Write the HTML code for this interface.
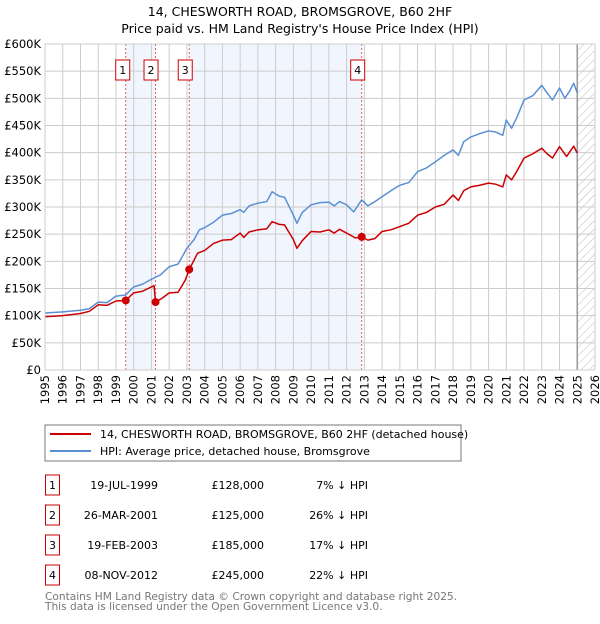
<!DOCTYPE html>
<html><head><meta charset="utf-8"><style>
body{margin:0;background:#fff;font-family:"DejaVu Sans","Liberation Sans",sans-serif;}
svg text{font-family:"DejaVu Sans","Liberation Sans",sans-serif;}
</style></head><body>
<svg width="600" height="620" viewBox="0 0 600 620" id="c">
<defs><pattern id="hatch" width="6" height="6" patternUnits="userSpaceOnUse" patternTransform="rotate(45)"><line x1="0" y1="0" x2="0" y2="6" stroke="#bbb" stroke-width="1"/></pattern></defs>
<text x="300" y="16" text-anchor="middle" font-size="12.5">14, CHESWORTH ROAD, BROMSGROVE, B60 2HF</text>
<text x="300" y="33" text-anchor="middle" font-size="12.5">Price paid vs. HM Land Registry's House Price Index (HPI)</text>
<g id="plot"></g>
<rect x="45" y="425" width="416" height="36" fill="#fff" stroke="#777"/>
<line x1="50" y1="434" x2="91" y2="434" stroke="#cc0000" stroke-width="2"/>
<text x="100" y="438" font-size="11">14, CHESWORTH ROAD, BROMSGROVE, B60 2HF (detached house)</text>
<line x1="50" y1="451" x2="91" y2="451" stroke="#5b8fd4" stroke-width="2"/>
<text x="100" y="455" font-size="11">HPI: Average price, detached house, Bromsgrove</text>
<g id="table" font-size="11"></g>
<text x="45" y="600" font-size="10.6" fill="#777">Contains HM Land Registry data © Crown copyright and database right 2025.</text>
<text x="45" y="610" font-size="10.6" fill="#777">This data is licensed under the Open Government Licence v3.0.</text>
</svg>
<script>
const yTicks=[0,50,100,150,200,250,300,350,400,450,500,550,600];
const yTickLabels=["£0","£50K","£100K","£150K","£200K","£250K","£300K","£350K","£400K","£450K","£500K","£550K","£600K"];
const xYears=[1995,1996,1997,1998,1999,2000,2001,2002,2003,2004,2005,2006,2007,2008,2009,2010,2011,2012,2013,2014,2015,2016,2017,2018,2019,2020,2021,2022,2023,2024,2025,2026];
const hpiT=[1995,1996,1997,1997.5,1998,1998.5,1999,1999.55,2000,2000.5,2001,2001.5,2002,2002.5,2003,2003.4,2003.7,2004,2004.5,2005,2005.5,2006,2006.2,2006.5,2007,2007.5,2007.8,2008.2,2008.5,2009,2009.2,2009.5,2010,2010.5,2011,2011.3,2011.6,2012,2012.4,2012.85,2013.2,2013.6,2014,2014.5,2015,2015.5,2016,2016.5,2017,2017.5,2018,2018.3,2018.6,2019,2019.5,2020,2020.4,2020.8,2021,2021.3,2021.6,2022,2022.5,2023,2023.3,2023.6,2024,2024.3,2024.6,2024.8,2025];
const hpiV=[105,107,110,113,125,124,136,138,153,158,167,175,190,195,224,240,258,262,272,285,288,295,290,302,307,310,328,320,318,285,270,290,304,308,309,302,310,304,291,313,302,310,319,330,340,345,365,372,383,395,405,395,420,429,435,440,438,432,460,445,465,497,505,524,510,497,519,500,515,528,510];
const priceT=[1995,1996,1997,1997.5,1998,1998.5,1999,1999.55,2000,2000.5,2001,2001.15,2001.23,2001.6,2002,2002.5,2002.9,2003.13,2003.6,2004,2004.5,2005,2005.5,2006,2006.2,2006.5,2007,2007.5,2007.8,2008.2,2008.5,2009,2009.2,2009.5,2010,2010.5,2011,2011.3,2011.6,2012,2012.5,2012.85,2013.2,2013.6,2014,2014.5,2015,2015.5,2016,2016.5,2017,2017.5,2018,2018.3,2018.6,2019,2019.5,2020,2020.4,2020.8,2021,2021.3,2021.6,2022,2022.5,2023,2023.3,2023.6,2024,2024.4,2024.8,2025];
const priceV=[98,100,104,108,120,119,127,128,142,145,153,155,125,132,142,143,165,185,215,220,233,239,240,252,244,254,258,260,273,268,267,240,224,238,255,254,258,252,259,252,243,245,239,242,255,258,264,270,285,290,300,305,322,312,330,337,340,344,342,337,359,350,366,390,398,408,398,390,411,393,412,399];
const saleLabels=["1","2","3","4"];
const saleT=[1999.55,2001.23,2003.13,2012.85];
const saleV=[128,125,185,245];
const saleDates=["19-JUL-1999","26-MAR-2001","19-FEB-2003","08-NOV-2012"];
const salePrices=["£128,000","£125,000","£185,000","£245,000"];
const saleHpi=["7% ↓ HPI","26% ↓ HPI","17% ↓ HPI","22% ↓ HPI"];

const X0=45,X1=595,Y0=370,Y1=44;
const xs=t=>X0+(t-1995)*(X1-X0)/31;
const ys=v=>Y0-v*(Y0-Y1)/600;
const NS="http://www.w3.org/2000/svg";
function mk(tag,attrs,parent,txt){const e=document.createElementNS(NS,tag);for(const k in attrs)e.setAttribute(k,attrs[k]);if(txt!==undefined)e.textContent=txt;parent.appendChild(e);return e;}
const plot=document.getElementById('plot');
for(const [a,b] of [[0,1],[2,3]]){
 const r=mk('rect',{x:xs(saleT[a]),y:Y1,width:xs(saleT[b])-xs(saleT[a]),height:Y0-Y1,fill:'#eef3fc',opacity:0.8},plot);
 
 
}
const h=mk('rect',{x:xs(2025),y:Y1,width:X1-xs(2025),height:Y0-Y1,fill:'url(#hatch)'},plot);


yTicks.forEach((v,i)=>{
 const l=mk('line',{x1:X0,x2:X1,y1:ys(v),y2:ys(v),stroke:'#ccc'},plot);
 
 
 const t=mk('text',{x:41,y:ys(v)+4,'text-anchor':'end','font-size':11.5},plot,yTickLabels[i]);
 
 
});
xYears.forEach(yr=>{
 const l=mk('line',{x1:xs(yr),x2:xs(yr),y1:Y1,y2:Y0,stroke:'#ccc'},plot);
 
 
 const t=mk('text',{transform:`translate(${xs(yr)+4},${Y0+5}) rotate(-90)`,'text-anchor':'end','font-size':11.5},plot,String(yr));
 
 
});
const vl=mk('line',{x1:xs(2025),x2:xs(2025),y1:Y1,y2:Y0,stroke:'#999','stroke-width':1.5},plot);


const boxOff=[10,11.5,11,11];
saleT.forEach((t,i)=>{
 const l=mk('line',{x1:xs(t),x2:xs(t),y1:Y1,y2:Y0,stroke:'#e06060','stroke-dasharray':'2,2'},plot);
 
 
 const bx=xs(t)-boxOff[i];
 const b=mk('rect',{x:bx,y:60,width:14,height:20,fill:'#fff',stroke:'#c00'},plot);
 
 
 const tx=mk('text',{x:bx+7,y:74,'text-anchor':'middle','font-size':11},plot,saleLabels[i]);
 
 
});
function line(T,V,col,name){
 const p=mk('polyline',{points:T.map((t,i)=>xs(t)+','+ys(V[i])).join(' '),fill:'none',stroke:col,'stroke-width':1.5,'stroke-linejoin':'round'},plot);
 
 
}
line(hpiT,hpiV,'#5b8fd4','hpi-line');
line(priceT,priceV,'#cc0000','price-paid-line');
saleT.forEach((t,i)=>{
 const c=mk('circle',{cx:xs(t),cy:ys(saleV[i]),r:4,fill:'#cc0000'},plot);
 
 
});
const bd=mk('rect',{x:X0,y:Y1,width:X1-X0,height:Y0-Y1,fill:'none',stroke:'#ccc'},plot);


const tb=document.getElementById('table');
saleT.forEach((t,i)=>{
 const cy=483+i*30;
 const b=mk('rect',{x:45.5,y:cy-8,width:14,height:20,fill:'#fff',stroke:'#c00'},tb);
 
 
 const n=mk('text',{x:52.5,y:cy+6,'text-anchor':'middle'},tb,saleLabels[i]);
 
 
 const d=mk('text',{x:158,y:cy+6,'text-anchor':'end'},tb,saleDates[i]);
 
 
 const p=mk('text',{x:264,y:cy+6,'text-anchor':'end'},tb,salePrices[i]);
 
 
 const hh=mk('text',{x:368,y:cy+6,'text-anchor':'end'},tb,saleHpi[i]);
 
 
});
</script>
</body></html>
